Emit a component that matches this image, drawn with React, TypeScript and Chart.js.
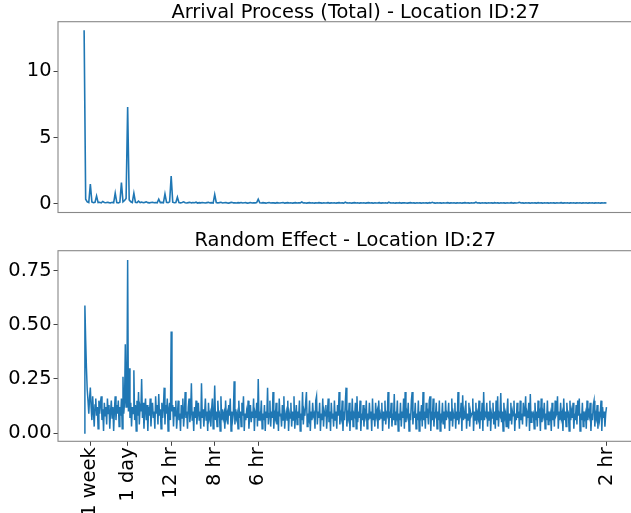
import React, { useEffect, useRef } from "react";
import { Chart, registerables } from "chart.js";

Chart.register(...registerables);

// Total arrivals periodogram: one value per bin k / 672 cycles per hour, k = 0..336
const arrivalTotal = [
  13.1, 0.35, 0.15, 0.10, 1.5, 0.14, 0.08, 0.11, 0.6, 0.09, 0.12, 0.07, 0.18, 0.10, 0.08, 0.12, 0.09, 0.07, 0.11, 0.08,
  0.8, 0.10, 0.07, 0.12, 1.6, 0.15, 0.25, 0.4, 7.3, 0.3, 0.15, 0.10, 0.8, 0.12, 0.09, 0.2, 0.10, 0.13, 0.08, 0.11,
  0.15, 0.09, 0.07, 0.10, 0.12, 0.08, 0.10, 0.07, 0.35, 0.09, 0.11, 0.08, 0.75, 0.12, 0.09, 0.15, 2.1, 0.12, 0.08, 0.10,
  0.5, 0.09, 0.07, 0.10, 0.15, 0.08, 0.06, 0.09, 0.11, 0.07, 0.10, 0.08, 0.12, 0.06, 0.09, 0.07, 0.10, 0.08, 0.06, 0.09,
  0.11, 0.07, 0.09, 0.06, 0.7, 0.10, 0.07, 0.09, 0.12, 0.06, 0.08, 0.10, 0.07, 0.05, 0.09, 0.11, 0.07, 0.08, 0.06, 0.09,
  0.07, 0.10, 0.06, 0.08, 0.09, 0.05, 0.07, 0.10, 0.06, 0.08, 0.07, 0.09, 0.35, 0.08, 0.06, 0.09, 0.07, 0.05, 0.08, 0.10,
  0.06, 0.08, 0.07, 0.05, 0.09, 0.07, 0.06, 0.08, 0.10, 0.05, 0.07, 0.09, 0.06, 0.08, 0.05, 0.07, 0.09, 0.06, 0.08, 0.07,
  0.14, 0.06, 0.08, 0.05, 0.07, 0.09, 0.06, 0.08, 0.05, 0.07, 0.06, 0.09, 0.07, 0.05, 0.08, 0.06, 0.07, 0.09, 0.05, 0.07,
  0.06, 0.08, 0.05, 0.07, 0.09, 0.06, 0.07, 0.05, 0.13, 0.07, 0.06, 0.08, 0.05, 0.07, 0.09, 0.06, 0.08, 0.05, 0.07, 0.06,
  0.08, 0.05, 0.07, 0.09, 0.06, 0.07, 0.05, 0.08, 0.06, 0.07, 0.09, 0.05, 0.07, 0.06, 0.08, 0.05, 0.12, 0.07, 0.06, 0.08,
  0.05, 0.07, 0.06, 0.09, 0.05, 0.07, 0.08, 0.06, 0.05, 0.07, 0.09, 0.06, 0.07, 0.05, 0.08, 0.06, 0.07, 0.05, 0.08, 0.06,
  0.07, 0.05, 0.09, 0.06, 0.11, 0.07, 0.05, 0.08, 0.06, 0.07, 0.05, 0.08, 0.06, 0.07, 0.09, 0.05, 0.07, 0.06, 0.08, 0.05,
  0.07, 0.06, 0.08, 0.05, 0.07, 0.09, 0.06, 0.07, 0.05, 0.08, 0.06, 0.07, 0.12, 0.06, 0.07, 0.05, 0.08, 0.06, 0.07, 0.05,
  0.08, 0.06, 0.07, 0.05, 0.09, 0.06, 0.07, 0.05, 0.08, 0.06, 0.07, 0.05, 0.08, 0.06, 0.07, 0.09, 0.05, 0.07, 0.06, 0.08,
  0.11, 0.06, 0.07, 0.05, 0.08, 0.06, 0.07, 0.05, 0.08, 0.06, 0.07, 0.05, 0.09, 0.06, 0.07, 0.05, 0.08, 0.06, 0.07, 0.05,
  0.08, 0.06, 0.07, 0.05, 0.08, 0.06, 0.07, 0.09, 0.05, 0.07, 0.06, 0.08, 0.05, 0.07, 0.06, 0.08, 0.05, 0.07, 0.06, 0.08,
  0.05, 0.07, 0.06, 0.08, 0.05, 0.07, 0.06, 0.08, 0.05, 0.07, 0.06, 0.08, 0.05, 0.07, 0.06, 0.07, 0.06,
];

// Random effect periodogram: one value per bin k / 1344 cycles per hour, k = 0..672
const randomEffect = [
  0, 0.59, 0.43, 0.30, 0.20, 0.15, 0.09, 0.16, 0.21, 0.12, 0.06, 0.17, 0.10, 0.03, 0.13, 0.16, 0.08, 0.12, 0.02, 0.15,
  0.09, 0.14, 0.17, 0.06, 0.11, 0.01, 0.14, 0.08, 0.12, 0.04, 0.16, 0.09, 0.13, 0.02, 0.10, 0.15, 0.07, 0.12, 0.01, 0.11,
  0.17, 0.06, 0.13, 0.09, 0.15, 0.03, 0.12, 0.08, 0.16, 0.02, 0.26, 0.09, 0.14, 0.41, 0.12, 0.18, 0.80, 0.10, 0.30, 0.07,
  0.14, 0.03, 0.12, 0.09, 0.29, 0.06, 0.13, 0.01, 0.15, 0.08, 0.19, 0.04, 0.12, 0.10, 0.25, 0.07, 0.14, 0.02, 0.11, 0.16,
  0.06, 0.13, 0.01, 0.12, 0.08, 0.16, 0.03, 0.11, 0.14, 0.07, 0.10, 0.02, 0.17, 0.09, 0.13, 0.04, 0.18, 0.08, 0.11, 0.02,
  0.14, 0.07, 0.12, 0.21, 0.04, 0.13, 0.09, 0.16, 0.01, 0.11, 0.14, 0.06, 0.47, 0.10, 0.13, 0.03, 0.12, 0.08, 0.15, 0.02,
  0.08, 0.15, 0.06, 0.09, 0.01, 0.13, 0.07, 0.16, 0.03, 0.09, 0.19, 0.07, 0.10, 0.02, 0.12, 0.16, 0.05, 0.09, 0.23, 0.06,
  0.10, 0.01, 0.12, 0.07, 0.15, 0.04, 0.09, 0.14, 0.06, 0.10, 0.02, 0.23, 0.07, 0.11, 0.03, 0.09, 0.16, 0.06, 0.10, 0.01,
  0.14, 0.07, 0.09, 0.03, 0.11, 0.16, 0.02, 0.08, 0.22, 0.06, 0.10, 0.03, 0.15, 0.08, 0.09, 0.01, 0.17, 0.06, 0.11, 0.07,
  0.09, 0.02, 0.15, 0.07, 0.09, 0.04, 0.13, 0.08, 0.16, 0.01, 0.10, 0.06, 0.09, 0.24, 0.04, 0.11, 0.07, 0.09, 0.02, 0.15,
  0.07, 0.10, 0.03, 0.14, 0.08, 0.17, 0.01, 0.09, 0.06, 0.10, 0.07, 0.15, 0.02, 0.08, 0.13, 0.05, 0.10, 0.07, 0.16, 0.01,
  0.09, 0.07, 0.14, 0.03, 0.25, 0.06, 0.10, 0.08, 0.15, 0.02, 0.09, 0.06, 0.13, 0.01, 0.10, 0.07, 0.21, 0.04, 0.09, 0.15,
  0.03, 0.10, 0.07, 0.19, 0.02, 0.09, 0.07, 0.14, 0.04, 0.10, 0.01, 0.16, 0.08, 0.09, 0.03, 0.13, 0.06, 0.17, 0.02, 0.08,
  0.10, 0.06, 0.15, 0.01, 0.09, 0.07, 0.14, 0.03, 0.10, 0.06, 0.17, 0.02, 0.08, 0.13, 0.04, 0.10, 0.07, 0.15, 0.01, 0.09,
  0.06, 0.19, 0.04, 0.10, 0.08, 0.14, 0.19, 0.03, 0.09, 0.07, 0.15, 0.01, 0.10, 0.06, 0.14, 0.08, 0.09, 0.02, 0.15, 0.17,
  0.04, 0.10, 0.07, 0.14, 0.01, 0.09, 0.06, 0.16, 0.03, 0.10, 0.08, 0.13, 0.02, 0.09, 0.16, 0.05, 0.10, 0.01, 0.14, 0.07,
  0.09, 0.03, 0.15, 0.06, 0.10, 0.02, 0.13, 0.08, 0.19, 0.04, 0.09, 0.07, 0.15, 0.01, 0.10, 0.06, 0.14, 0.21, 0.03, 0.09,
  0.07, 0.14, 0.01, 0.10, 0.06, 0.16, 0.03, 0.09, 0.08, 0.14, 0.02, 0.17, 0.05, 0.10, 0.07, 0.15, 0.01, 0.09, 0.06, 0.13,
  0.03, 0.10, 0.08, 0.15, 0.02, 0.09, 0.06, 0.14, 0.07, 0.10, 0.01, 0.16, 0.06, 0.09, 0.03, 0.14, 0.08, 0.10, 0.02, 0.15,
  0.06, 0.09, 0.07, 0.14, 0.01, 0.10, 0.06, 0.15, 0.04, 0.09, 0.08, 0.19, 0.02, 0.10, 0.07, 0.14, 0.03, 0.09, 0.06, 0.18,
  0.04, 0.10, 0.08, 0.15, 0.01, 0.09, 0.06, 0.14, 0.03, 0.10, 0.07, 0.16, 0.02, 0.19, 0.05, 0.10, 0.08, 0.14, 0.01, 0.09,
  0.06, 0.15, 0.19, 0.04, 0.10, 0.07, 0.14, 0.02, 0.09, 0.06, 0.15, 0.01, 0.10, 0.08, 0.13, 0.03, 0.19, 0.06, 0.10, 0.02,
  0.14, 0.07, 0.09, 0.04, 0.15, 0.17, 0.01, 0.10, 0.06, 0.16, 0.03, 0.09, 0.08, 0.14, 0.02, 0.10, 0.06, 0.15, 0.01, 0.09,
  0.07, 0.14, 0.04, 0.10, 0.02, 0.15, 0.06, 0.09, 0.08, 0.14, 0.01, 0.10, 0.06, 0.16, 0.03, 0.09, 0.07, 0.14, 0.02, 0.10,
  0.06, 0.19, 0.04, 0.09, 0.08, 0.14, 0.01, 0.175, 0.06, 0.10, 0.07, 0.15, 0.02, 0.09, 0.06, 0.14, 0.03, 0.10, 0.08, 0.09,
  0.16, 0.01, 0.10, 0.06, 0.14, 0.04, 0.09, 0.07, 0.15, 0.02, 0.10, 0.06, 0.14, 0.01, 0.19, 0.06, 0.09, 0.08, 0.14, 0.03,
  0.10, 0.06, 0.15, 0.01, 0.09, 0.07, 0.14, 0.04, 0.10, 0.02, 0.15, 0.06, 0.17, 0.03, 0.09, 0.08, 0.185, 0.05, 0.10, 0.01,
  0.14, 0.07, 0.09, 0.03, 0.10, 0.16, 0.02, 0.09, 0.06, 0.14, 0.04, 0.10, 0.08, 0.15, 0.01, 0.09, 0.06, 0.14, 0.07, 0.10,
  0.02, 0.15, 0.06, 0.09, 0.04, 0.14, 0.08, 0.10, 0.17, 0.03, 0.09, 0.07, 0.14, 0.01, 0.18, 0.05, 0.10, 0.08, 0.09, 0.02,
  0.14, 0.06, 0.10, 0.03, 0.15, 0.07, 0.09, 0.01, 0.16, 0.05, 0.10, 0.08, 0.14, 0.02, 0.09, 0.06, 0.15, 0.04, 0.10, 0.07,
  0.09, 0.01, 0.14, 0.06, 0.10, 0.03, 0.15, 0.08, 0.09, 0.17, 0.02, 0.10, 0.06, 0.14, 0.07, 0.09, 0.01, 0.16, 0.06, 0.10,
  0.03, 0.14, 0.08, 0.09, 0.01, 0.15, 0.06, 0.10, 0.07, 0.14, 0.02, 0.09, 0.06, 0.13, 0.04, 0.15, 0.08, 0.16, 0.01, 0.09,
  0.06, 0.14, 0.03, 0.10, 0.07, 0.09, 0.02, 0.15, 0.06, 0.10, 0.08, 0.14, 0.01, 0.09, 0.06, 0.13, 0.15, 0.03, 0.09, 0.07,
  0.13, 0.02, 0.10, 0.06, 0.09, 0.15, 0.01, 0.12, 0.07, 0.10, 0.03, 0.09, 0.12,
];

const maxFrequency = 0.5; // cycles per hour
const tickPeriodsHours = [168, 24, 12, 8, 6, 2];
const tickLabels = ["1 week", "1 day", "12 hr", "8 hr", "6 hr", "2 hr"];
const topTitle = "Arrival Process (Total) - Location ID:27";
const bottomTitle = "Random Effect - Location ID:27";
const topYTicks = [0, 5, 10];
const bottomYTicks = [0, 0.25, 0.5, 0.75];

const FONT = "'DejaVu Sans', 'Liberation Sans', sans-serif";
const FONT_SIZE = 19.4;
const LINE_COLOR = "#1f77b4";
const SPINE_COLOR = "#888888";
const TICK_COLOR = "#444444";
const CANVAS_W = 640;
const AREA_LEFT = 58;
const AREA_RIGHT = 632.6;

const framePlugin = {
  id: "frameAndTitle",
  afterDraw(chart: any, _args: any, opts: any) {
    const { ctx, chartArea: a } = chart;
    ctx.save();
    ctx.strokeStyle = SPINE_COLOR;
    ctx.lineWidth = 1.1;
    ctx.strokeRect(a.left, a.top, a.right - a.left, a.bottom - a.top);
    ctx.fillStyle = "#000";
    ctx.font = `${FONT_SIZE}px ${FONT}`;
    ctx.textAlign = "center";
    ctx.textBaseline = "alphabetic";
    ctx.fillText(opts.text, (a.left + a.right) / 2 + (opts.dx || 0), a.top - opts.dy);
    ctx.restore();
  },
};

type PanelProps = {
  values: number[];
  title: string;
  titleDx: number;
  titleDy: number;
  yTicks: number[];
  yMin: number;
  yMax: number;
  yDecimals: number;
  showX: boolean;
  lineWidth: number;
  top: number;
  height: number;
  areaTop: number;
  areaBottom: number;
};

function Panel(p: PanelProps) {
  const ref = useRef<HTMLCanvasElement | null>(null);
  useEffect(() => {
    if (!ref.current) return;
    const n = p.values.length;
    const points = p.values.map((v, i) => ({ x: (i / (n - 1)) * maxFrequency, y: v }));
    const chart = new Chart(ref.current, {
      type: "line",
      data: {
        datasets: [
          {
            data: points,
            borderColor: LINE_COLOR,
            borderWidth: p.lineWidth,
            pointRadius: 0,
            tension: 0,
            fill: false,
          },
        ],
      },
      plugins: [framePlugin],
      options: {
        animation: false,
        responsive: false,
        maintainAspectRatio: false,
        devicePixelRatio: 1,
        layout: {
          padding: { top: p.areaTop, left: 0, right: CANVAS_W - AREA_RIGHT, bottom: 0 },
        },
        plugins: {
          legend: { display: false },
          tooltip: { enabled: false },
          title: { display: false },
          frameAndTitle: { text: p.title, dx: p.titleDx, dy: p.titleDy },
        } as any,
        scales: {
          x: {
            type: "linear",
            min: -0.05 * maxFrequency,
            max: 1.05 * maxFrequency,
            border: { display: false },
            grid: {
              display: p.showX,
              drawOnChartArea: false,
              drawTicks: p.showX,
              tickLength: 4.5,
              color: TICK_COLOR,
              lineWidth: 1,
            },
            afterBuildTicks: (s: any) => {
              s.ticks = tickPeriodsHours.map((h) => ({ value: 1 / h }));
            },
            afterFit: (s: any) => {
              s.height = p.height - p.areaBottom;
              s.paddingLeft = 0;
              s.paddingRight = 0;
            },
            ticks: {
              display: p.showX,
              autoSkip: false,
              maxRotation: 90,
              minRotation: 90,
              padding: 1.5,
              color: "#000",
              font: { family: FONT, size: FONT_SIZE },
              callback: (_v: any, i: number) => tickLabels[i],
            },
          },
          y: {
            type: "linear",
            min: p.yMin,
            max: p.yMax,
            border: { display: false },
            grid: {
              display: true,
              drawOnChartArea: false,
              drawTicks: true,
              tickLength: 4.5,
              color: TICK_COLOR,
              lineWidth: 1,
            },
            afterBuildTicks: (s: any) => {
              s.ticks = p.yTicks.map((v) => ({ value: v }));
            },
            afterFit: (s: any) => {
              s.width = AREA_LEFT;
              s.paddingTop = 0;
              s.paddingBottom = 0;
            },
            ticks: {
              padding: 2,
              color: "#000",
              font: { family: FONT, size: FONT_SIZE },
              callback: (v: any) => Number(v).toFixed(p.yDecimals),
            },
          },
        },
      } as any,
    });
    return () => chart.destroy();
  }, []);
  return (
    <canvas
      ref={ref}
      width={CANVAS_W}
      height={p.height}
      style={{ position: "absolute", left: 0, top: p.top, width: CANVAS_W, height: p.height }}
    />
  );
}

export default function App() {
  return (
    <div
      style={{
        position: "fixed",
        left: 0,
        top: 0,
        width: 631,
        height: 513,
        overflow: "hidden",
        background: "#fff",
      }}
    >
      <Panel
        values={arrivalTotal}
        title={topTitle}
        titleDx={10.5}
        titleDy={3.6}
        yTicks={topYTicks}
        yMin={-0.655}
        yMax={13.75}
        yDecimals={0}
        showX={false}
        lineWidth={1.6}
        top={0}
        height={240}
        areaTop={21.7}
        areaBottom={212.5}
      />
      <Panel
        values={randomEffect}
        title={bottomTitle}
        titleDx={0}
        titleDy={5}
        yTicks={bottomYTicks}
        yMin={-0.038}
        yMax={0.843}
        yDecimals={2}
        showX={true}
        lineWidth={1.5}
        top={226}
        height={287}
        areaTop={24.7}
        areaBottom={215.3}
      />
    </div>
  );
}
